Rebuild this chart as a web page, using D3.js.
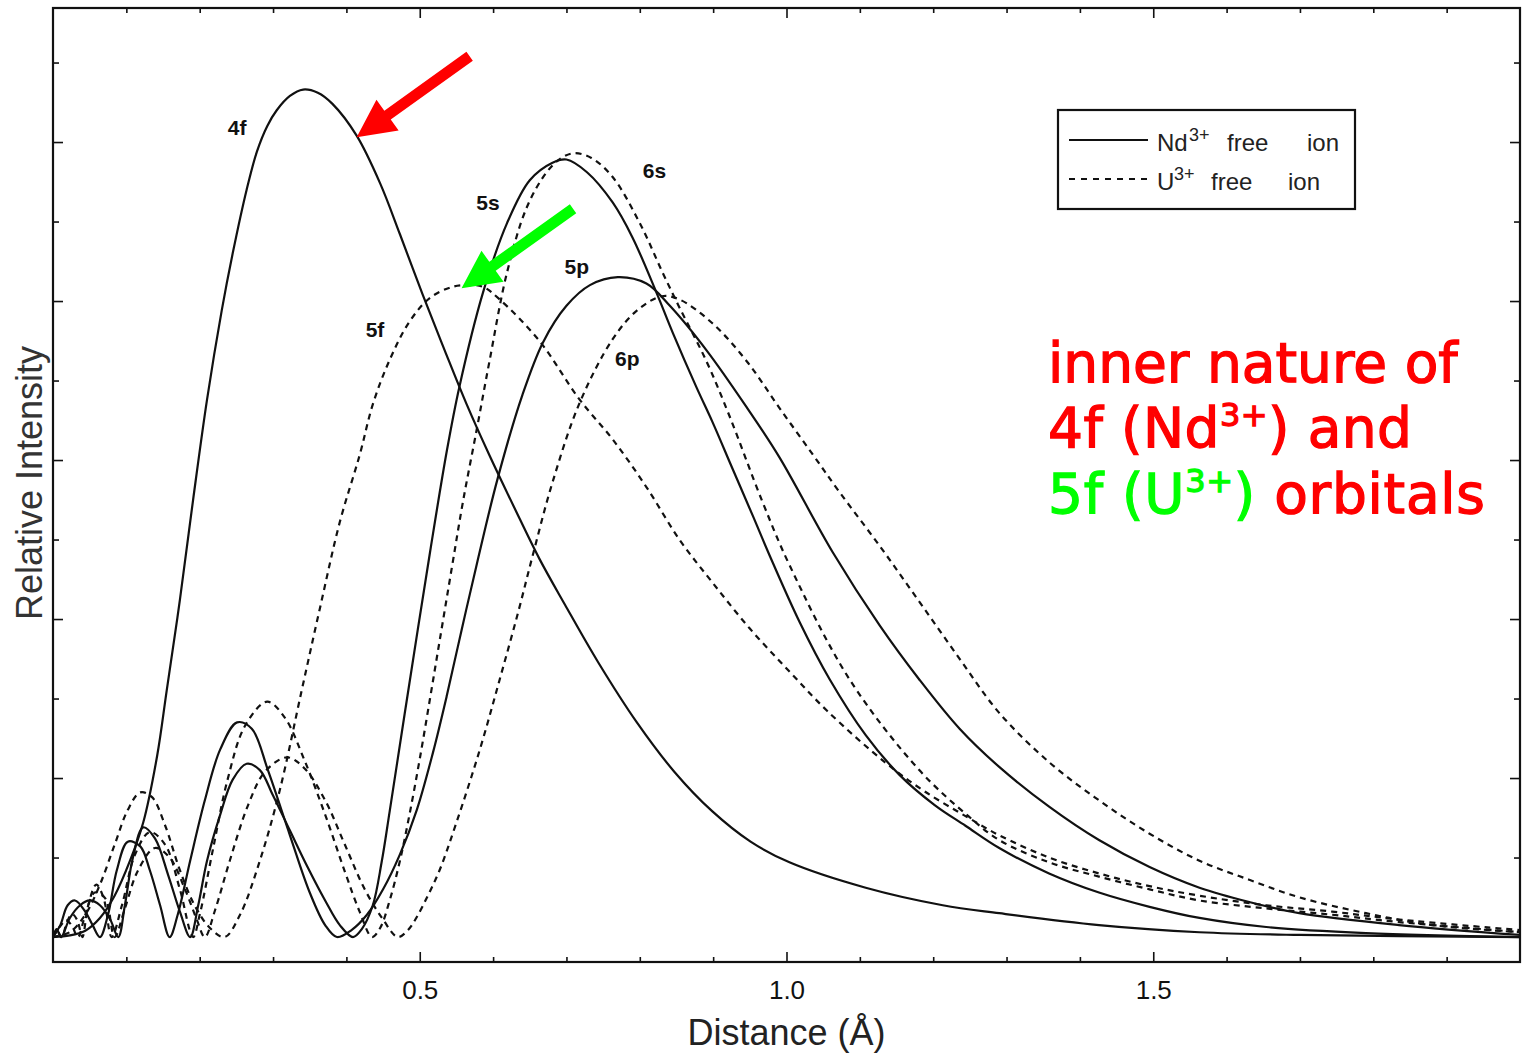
<!DOCTYPE html>
<html lang="en">
<head>
<meta charset="UTF-8">
<title>Radial distribution: Nd3+ and U3+ free ions</title>
<script src="https://cdnjs.cloudflare.com/ajax/libs/d3/7.8.5/d3.min.js"></script>
<style>
  body { margin: 0; background: #fff; }
  svg { display: block; }
</style>
</head>
<body>
<svg id="chart" width="1522" height="1055"></svg>
<script>
// ---- data: [distance (Å), relative intensity] ----
const nd4f = [[0,0],[0.023,0.01],[0.044,0.04],[0.064,0.12],[0.084,0.26],[0.105,0.48],[0.123,0.72],[0.142,1.14],[0.155,1.55],[0.173,2.12],[0.191,2.75],[0.210,3.38],[0.230,3.94],[0.245,4.30],[0.264,4.70],[0.278,4.94],[0.292,5.10],[0.305,5.20],[0.323,5.29],[0.341,5.33],[0.361,5.31],[0.381,5.24],[0.414,5.04],[0.446,4.74],[0.473,4.42],[0.504,4.04],[0.534,3.69],[0.564,3.35],[0.595,3.03],[0.629,2.70],[0.663,2.38],[0.698,2.09],[0.743,1.73],[0.796,1.35],[0.847,1.04],[0.899,0.79],[0.951,0.60],[1.004,0.47],[1.108,0.31],[1.213,0.20],[1.290,0.15],[1.426,0.075],[1.563,0.03],[1.699,0.013],[2.0,0]];

const nd5s = [[0,0],[0.005,0.05],[0.011,0],
  [0.023,0.12],[0.037,0.20],[0.050,0.23],[0.064,0.20],[0.078,0.11],[0.089,0],
  [0.098,0.20],[0.109,0.50],[0.123,0.69],[0.139,0.62],[0.157,0.39],[0.173,0.16],[0.187,0],
  [0.198,0.20],[0.210,0.48],[0.228,0.77],[0.245,0.99],[0.264,1.09],[0.282,1.05],[0.300,0.89],[0.323,0.67],[0.346,0.45],[0.371,0.23],[0.391,0.075],[0.409,0],
  [0.421,0.05],[0.436,0.20],[0.448,0.47],[0.459,0.79],[0.482,1.48],[0.514,2.42],[0.537,3.06],[0.554,3.46],[0.586,4.05],[0.619,4.49],[0.650,4.76],[0.681,4.87],[0.700,4.89],[0.728,4.81],[0.763,4.62],[0.790,4.40],[0.823,4.05],[0.845,3.80],[0.877,3.46],[0.899,3.24],[0.926,2.95],[0.954,2.65],[0.977,2.40],[1.018,1.98],[1.059,1.62],[1.108,1.27],[1.154,1.02],[1.202,0.83],[1.244,0.70],[1.290,0.56],[1.358,0.40],[1.426,0.28],[1.495,0.19],[1.563,0.12],[1.654,0.063],[1.790,0.025],[2.0,0]];

const nd5p = [[0,0],[0.010,0.075],[0.020,0.20],[0.030,0.23],[0.044,0.16],[0.054,0.075],[0.064,0],
  [0.075,0.14],[0.087,0.42],[0.102,0.60],[0.119,0.57],[0.132,0.42],[0.146,0.20],[0.159,0],
  [0.170,0.14],[0.187,0.48],[0.207,0.86],[0.228,1.18],[0.251,1.35],[0.271,1.31],[0.293,1.05],[0.323,0.64],[0.350,0.28],[0.371,0.075],[0.387,0],
  [0.407,0.044],[0.428,0.14],[0.450,0.30],[0.473,0.52],[0.496,0.80],[0.518,1.16],[0.537,1.52],[0.557,1.93],[0.578,2.35],[0.606,2.88],[0.640,3.41],[0.668,3.74],[0.700,3.97],[0.732,4.10],[0.770,4.15],[0.809,4.11],[0.841,3.97],[0.891,3.69],[0.946,3.33],[0.990,3.02],[1.063,2.42],[1.127,1.96],[1.181,1.62],[1.236,1.31],[1.290,1.07],[1.358,0.82],[1.426,0.61],[1.495,0.44],[1.563,0.31],[1.631,0.22],[1.699,0.15],[1.835,0.075],[2.0,0.013]];

const u5f = [[0,0],[0.023,0.031],[0.044,0.14],[0.064,0.33],[0.084,0.58],[0.102,0.80],[0.119,0.91],[0.135,0.88],[0.153,0.70],[0.173,0.42],[0.193,0.20],[0.214,0.057],[0.234,0],
  [0.255,0.14],[0.282,0.48],[0.309,0.92],[0.339,1.55],[0.364,2.07],[0.391,2.61],[0.418,3.03],[0.436,3.35],[0.459,3.63],[0.486,3.87],[0.514,4.02],[0.545,4.09],[0.568,4.10],[0.586,4.09],[0.609,4.01],[0.663,3.75],[0.718,3.38],[0.763,3.13],[0.809,2.83],[0.854,2.50],[0.899,2.23],[0.950,1.94],[1.004,1.67],[1.056,1.42],[1.134,1.10],[1.187,0.92],[1.248,0.75],[1.290,0.64],[1.358,0.50],[1.426,0.40],[1.495,0.32],[1.563,0.26],[1.654,0.20],[1.744,0.16],[1.835,0.11],[2.0,0.044]];

const u6s = [[0,0],[0.005,0.044],[0.012,0],
  [0.019,0.094],[0.026,0.145],[0.033,0.107],[0.040,0],
  [0.048,0.20],[0.059,0.33],[0.069,0.245],[0.080,0],
  [0.094,0.20],[0.112,0.52],[0.132,0.66],[0.153,0.58],[0.173,0.30],[0.191,0],
  [0.200,0.14],[0.218,0.55],[0.238,0.99],[0.262,1.33],[0.292,1.48],[0.316,1.38],[0.343,1.11],[0.371,0.77],[0.398,0.41],[0.418,0.16],[0.435,0],
  [0.446,0.057],[0.459,0.23],[0.473,0.48],[0.486,0.77],[0.500,1.12],[0.514,1.50],[0.527,1.86],[0.544,2.33],[0.559,2.74],[0.578,3.20],[0.595,3.62],[0.619,4.18],[0.646,4.59],[0.673,4.81],[0.693,4.90],[0.711,4.93],[0.734,4.90],[0.763,4.78],[0.800,4.49],[0.831,4.18],[0.854,3.96],[0.891,3.62],[0.922,3.28],[0.967,2.74],[1.004,2.34],[1.086,1.62],[1.181,1.05],[1.248,0.76],[1.290,0.61],[1.358,0.47],[1.426,0.38],[1.495,0.30],[1.563,0.23],[1.654,0.18],[1.744,0.14],[1.835,0.094],[2.0,0.031]];

const u6p = [[0,0],[0.010,0.069],[0.018,0.107],[0.026,0.069],[0.034,0],
  [0.044,0.14],[0.057,0.28],[0.071,0.245],[0.084,0],
  [0.098,0.18],[0.116,0.42],[0.139,0.56],[0.159,0.50],[0.180,0.30],[0.196,0.11],[0.207,0],
  [0.221,0.17],[0.241,0.48],[0.266,0.83],[0.289,1.04],[0.319,1.13],[0.343,1.06],[0.371,0.86],[0.398,0.58],[0.425,0.30],[0.450,0.11],[0.470,0],
  [0.484,0.044],[0.496,0.126],[0.511,0.26],[0.527,0.42],[0.550,0.72],[0.582,1.18],[0.609,1.62],[0.634,2.04],[0.654,2.40],[0.681,2.86],[0.718,3.36],[0.763,3.76],[0.796,3.94],[0.830,4.03],[0.854,4.01],[0.899,3.86],[0.946,3.62],[0.990,3.33],[1.035,3.04],[1.072,2.80],[1.127,2.46],[1.181,2.11],[1.236,1.75],[1.290,1.41],[1.358,1.10],[1.426,0.86],[1.495,0.65],[1.563,0.48],[1.631,0.36],[1.699,0.25],[1.790,0.15],[1.880,0.075],[2.0,0.031]];

const seriesNames = ["4f", "5s", "5p", "5f", "6s", "6p"];
const seriesData = [nd4f, nd5s, nd5p, u5f, u6s, u6p];
const seriesIon = ["Nd", "Nd", "Nd", "U", "U", "U"];

// curve labels: [text, distance, intensity]
const curveLabels = [["4f",0.251,5.09],["5s",0.593,4.62],["5f",0.439,3.82],["5p",0.714,4.22],["6s",0.820,4.82],["6p",0.783,3.64]];

const xMajor = [0.5, 1.0, 1.5];
const xMinor = [0.1,0.2,0.3,0.4,0.6,0.7,0.8,0.9,1.1,1.2,1.3,1.4,1.6,1.7,1.8,1.9];
const yMajor = [1, 2, 3, 4, 5];
const yMinor = [0.5, 1.5, 2.5, 3.5, 4.5, 5.5];

// ---- chart ----
const svg = d3.select("#chart");
const x = d3.scaleLinear().domain([0, 2]).range([53, 1520]);
const y = d3.scaleLinear().domain([-0.157, 5.843]).range([962, 8]);
const [plotL, plotR] = x.range();
const [plotB, plotT] = y.range();
const axisFont = "'Liberation Sans', Arial, sans-serif";

svg.append("rect").attr("width", 1522).attr("height", 1055).attr("fill", "#fff");

// clip the curves at the zero line so the spline never dips below it
svg.append("clipPath").attr("id", "plot")
  .append("rect").attr("x", plotL).attr("y", plotT).attr("width", plotR - plotL).attr("height", y(-0.01) - plotT);

const line = d3.line()
  .x(d => x(d[0]))
  .y(d => y(d[1]))
  .curve(d3.curveCatmullRom.alpha(0.5));

svg.append("g").attr("clip-path", "url(#plot)")
  .selectAll("path")
  .data(seriesData)
  .join("path")
  .attr("d", line)
  .attr("fill", "none")
  .attr("stroke", "#111")
  .attr("stroke-width", 2.2)
  .attr("stroke-linejoin", "round")
  .attr("stroke-dasharray", (d, i) => seriesIon[i] === "U" ? "6,5" : null);

// ticks on all four sides, pointing inward
function ticks(axis, tr, values, size) {
  const g = svg.append("g").attr("transform", tr)
    .call(axis.tickValues(values).tickSize(-size).tickFormat(""));
  g.select(".domain").remove();
  g.selectAll("line").attr("stroke", "#111").attr("stroke-width", 1.6);
  return g;
}
ticks(d3.axisBottom(x), `translate(0,${plotB})`, xMinor, 5);
ticks(d3.axisTop(x), `translate(0,${plotT})`, xMinor, 5);
ticks(d3.axisTop(x), `translate(0,${plotT})`, xMajor, 10);
ticks(d3.axisLeft(y), `translate(${plotL},0)`, yMinor, 6);
ticks(d3.axisLeft(y), `translate(${plotL},0)`, yMajor, 10);
ticks(d3.axisRight(y), `translate(${plotR},0)`, yMinor, 6);
ticks(d3.axisRight(y), `translate(${plotR},0)`, yMajor, 10);

const gx = svg.append("g").attr("transform", `translate(0,${plotB})`)
  .call(d3.axisBottom(x).tickValues(xMajor).tickSize(-10).tickPadding(19).tickFormat(d3.format(".1f")));
gx.select(".domain").remove();
gx.selectAll("line").attr("stroke", "#111").attr("stroke-width", 1.6);
gx.selectAll("text").attr("font-size", 26).attr("font-family", axisFont).attr("fill", "#111");

// frame
svg.append("rect")
  .attr("x", plotL).attr("y", plotT)
  .attr("width", plotR - plotL).attr("height", plotB - plotT)
  .attr("fill", "none").attr("stroke", "#111").attr("stroke-width", 2.2);

// axis titles
svg.append("text")
  .attr("x", x(1.0)).attr("y", 1045)
  .attr("text-anchor", "middle")
  .attr("font-family", axisFont).attr("font-size", 36).attr("fill", "#222")
  .text("Distance (Å)");

svg.append("text")
  .attr("transform", `translate(42,${(plotT + plotB) / 2 - 2}) rotate(-90)`)
  .attr("text-anchor", "middle")
  .attr("font-family", axisFont).attr("font-size", 36).attr("fill", "#333")
  .text("Relative Intensity");

// curve labels
svg.append("g").selectAll("text")
  .data(curveLabels)
  .join("text")
  .attr("x", d => x(d[1])).attr("y", d => y(d[2]))
  .attr("text-anchor", "middle").attr("dominant-baseline", "central")
  .attr("font-family", axisFont).attr("font-size", 21).attr("font-weight", "bold").attr("fill", "#111")
  .text(d => d[0]);

// legend (wide word spacing as in the scanned original)
const lg = svg.append("g").attr("font-family", axisFont).attr("fill", "#222");
lg.append("rect").attr("x", 1058).attr("y", 110).attr("width", 297).attr("height", 99)
  .attr("fill", "#fff").attr("stroke", "#111").attr("stroke-width", 2.2);
const legendRows = [
  { ion: "Nd", ly: 140, dash: null, xs: [1157, 1189, 1227, 1307] },
  { ion: "U",  ly: 179, dash: "6,6", xs: [1157, 1174, 1211, 1288] }
];
legendRows.forEach(r => {
  lg.append("line").attr("x1", 1069).attr("x2", 1148).attr("y1", r.ly).attr("y2", r.ly)
    .attr("stroke", "#111").attr("stroke-width", 1.8).attr("stroke-dasharray", r.dash);
  const base = r.ly + 11;
  lg.append("text").attr("x", r.xs[0]).attr("y", base).attr("font-size", 24).text(r.ion);
  lg.append("text").attr("x", r.xs[1]).attr("y", base - 10).attr("font-size", 18).text("3+");
  lg.append("text").attr("x", r.xs[2]).attr("y", base).attr("font-size", 24).text("free");
  lg.append("text").attr("x", r.xs[3]).attr("y", base).attr("font-size", 24).text("ion");
});

// arrows pointing at the 4f and 5f curves
function arrow(tail, tip, color) {
  const x0 = x(tail[0]), y0 = y(tail[1]), x1 = x(tip[0]), y1 = y(tip[1]);
  const L = Math.hypot(x1 - x0, y1 - y0);
  const ux = (x1 - x0) / L, uy = (y1 - y0) / L, nx = -uy, ny = ux;
  const hl = 38, hw = 19, sw = 5.5;
  const bx = x1 - ux * hl, by = y1 - uy * hl;
  const pts = [[x0 + nx * sw, y0 + ny * sw], [bx + nx * sw, by + ny * sw], [bx + nx * hw, by + ny * hw], [x1, y1],
               [bx - nx * hw, by - ny * hw], [bx - nx * sw, by - ny * sw], [x0 - nx * sw, y0 - ny * sw]];
  svg.append("polygon").attr("points", pts.map(p => p.join(",")).join(" ")).attr("fill", color);
}
arrow([0.568, 5.54], [0.414, 5.03], "#ff0000");
arrow([0.709, 4.58], [0.557, 4.08], "#00ff00");

// annotation text
const noteFont = "'DejaVu Sans', Verdana, sans-serif";
const red = "#ff0000", green = "#00ff00";
const note = svg.append("g").attr("font-family", noteFont).attr("font-size", 55)
  .attr("stroke-width", 1.3).attr("paint-order", "stroke");
note.append("text").attr("x", 1048).attr("y", 382).attr("fill", red).attr("stroke", red).text("inner nature of");
const l2 = note.append("text").attr("x", 1048).attr("y", 447).attr("fill", red).attr("stroke", red)
  .attr("textLength", 364).attr("lengthAdjust", "spacing");
l2.append("tspan").text("4f (Nd");
l2.append("tspan").attr("dy", -21).attr("font-size", 32).text("3+");
l2.append("tspan").attr("dy", 21).text(") and");
const l3 = note.append("text").attr("x", 1048).attr("y", 513).attr("fill", green).attr("stroke", green)
  .attr("textLength", 437).attr("lengthAdjust", "spacing");
l3.append("tspan").text("5f (U");
l3.append("tspan").attr("dy", -21).attr("font-size", 32).text("3+");
l3.append("tspan").attr("dy", 21).text(")");
l3.append("tspan").attr("fill", red).attr("stroke", red).text(" orbitals");
</script>
</body>
</html>
